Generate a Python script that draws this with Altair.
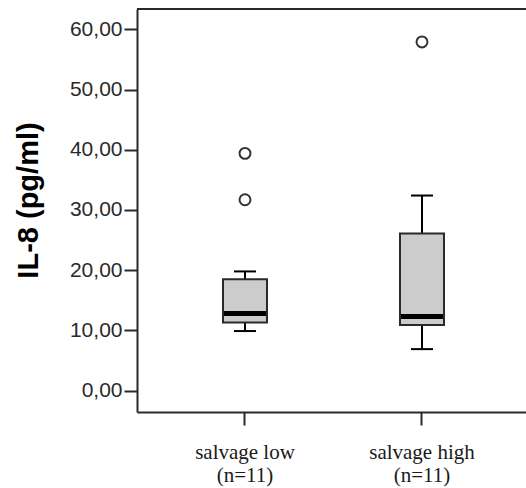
import altair as alt
import pandas as pd

# ---- data ----
categories = ["salvage low", "salvage high"]
n_labels = ["(n=11)", "(n=11)"]
whisker_low = [9.9, 6.9]
q1 = [11.3, 10.9]
median = [12.8, 12.3]
q3 = [18.5, 26.1]
whisker_high = [19.8, 32.4]
outlier_group = ["salvage low", "salvage low", "salvage high"]
outlier_values = [39.4, 31.7, 57.9]
y_ticks = [0, 10, 20, 30, 40, 50, 60]
y_title = "IL-8 (pg/ml)"

keys = [f"{c}|{n}" for c, n in zip(categories, n_labels)]
box_df = pd.DataFrame({
    "grp": keys,
    "wlo": whisker_low,
    "q1": q1,
    "med": median,
    "q3": q3,
    "whi": whisker_high,
})
out_df = pd.DataFrame({
    "grp": [keys[categories.index(g)] for g in outlier_group],
    "v": outlier_values,
})

W, H = 389, 403
DARK = "#2a2a2a"

x_enc = alt.X(
    "grp:N",
    sort=keys,
    title=None,
    scale=alt.Scale(paddingInner=0, paddingOuter=0.0989, align=0.557),
    axis=alt.Axis(
        labelExpr="split(datum.value, '|')",
        labelAngle=0,
        labelFont="Liberation Serif",
        labelFontSize=21,
        labelColor="#1a1a1a",
        labelLineHeight=23,
        labelPadding=16,
        tickSize=13,
        tickWidth=2,
        tickColor=DARK,
        domainColor=DARK,
        domainWidth=2,
        labelBaseline="top",
    ),
)

y_scale = alt.Scale(domain=[-3.54, 63.37], nice=False, zero=False)
y_axis = alt.Axis(
    values=y_ticks,
    labelExpr="replace(format(datum.value, '.2f'), '.', ',')",
    labelFont="Liberation Sans",
    labelFontSize=21,
    labelColor="#2a2a2a",
    labelPadding=2,
    tickSize=13,
    tickWidth=2,
    tickColor=DARK,
    domainColor=DARK,
    domainWidth=2,
    grid=False,
    titleFont="Liberation Sans",
    titleFontSize=29,
    titleFontWeight="bold",
    titleColor="#000000",
    titleAngle=270,
    titleX=-94,
    titleY=191,
    titleAlign="center",
    titleBaseline="bottom",
)

base = alt.Chart(box_df).encode(x=x_enc)

whiskers = base.mark_rule(color="#000000", strokeWidth=2, opacity=1).encode(
    y=alt.Y("wlo:Q", scale=y_scale, axis=y_axis, title=y_title),
    y2="whi:Q",
)
cap_lo = base.mark_tick(color="#000000", size=22, thickness=2, opacity=1).encode(
    y=alt.Y("wlo:Q", title=y_title)
)
cap_hi = base.mark_tick(color="#000000", size=22, thickness=2, opacity=1).encode(
    y=alt.Y("whi:Q", title=y_title)
)
boxes = base.mark_bar(size=44, fill="#cccccc", stroke=DARK, strokeWidth=2, opacity=1).encode(
    y=alt.Y("q1:Q", title=y_title),
    y2="q3:Q",
)
medians = base.mark_tick(color="#000000", size=42, thickness=5, opacity=1).encode(
    y=alt.Y("med:Q", title=y_title)
)
outliers = alt.Chart(out_df).mark_point(
    shape="circle", filled=False, size=120, stroke="#333333", strokeWidth=2, opacity=1
).encode(x=alt.X("grp:N", sort=keys, title=None), y=alt.Y("v:Q", title=y_title))

top_line = alt.Chart(pd.DataFrame({"a": [0]})).mark_rule(
    color=DARK, strokeWidth=2
).encode(x=alt.value(0), x2=alt.value(W), y=alt.value(0))

chart = alt.layer(
    whiskers, cap_lo, cap_hi, boxes, medians, outliers, top_line
).properties(
    width=W,
    height=H,
    autosize=alt.AutoSizeParams(type="none"),
    padding={"left": 137, "top": 9, "right": 0, "bottom": 76},
    background="white",
).configure_view(stroke=None)

chart.save("out.html", embed_options={"renderer": "svg", "actions": False})
